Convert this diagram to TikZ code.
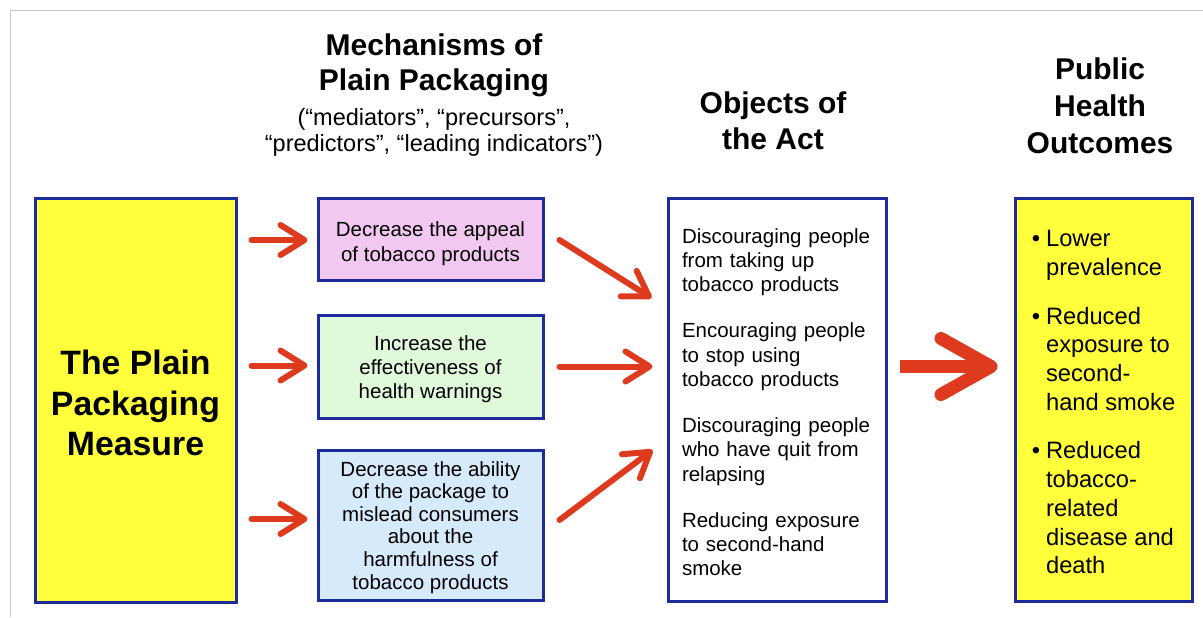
\documentclass[tikz,border=0pt]{standalone}
\usepackage{fontspec}
\setmainfont{Liberation Sans}
\usepackage{xcolor}
\usetikzlibrary{arrows.meta, calc}

\definecolor{boxblue}{HTML}{1E2B9C}
\definecolor{measureyellow}{HTML}{FFFF3C}
\definecolor{appealpink}{HTML}{F2C8F0}
\definecolor{warngreen}{HTML}{E0F9DA}
\definecolor{misleadblue}{HTML}{D6EAFA}
\definecolor{arrowred}{HTML}{DE3A1E}
\definecolor{framegray}{HTML}{C8C8C8}

% lower the lines of a box a little, keeping the box size
\newcommand{\lowered}[2]{\raisebox{-#1}[\height][\depth]{#2}}

\begin{document}
\begin{tikzpicture}[
    x=0.5pt, y=-0.5pt,
    box/.style={draw=boxblue, line width=1.5pt, fill=#1, align=center, inner sep=0pt, font=\fontsize{10.25}{12.15}\selectfont},
    box/.default=white,
    heading/.style={align=center, inner sep=0pt, font=\fontsize{15}{18}\selectfont\bfseries},
    arrow/.style={-{Straight Barb[length=12pt, width=15pt, round]}, line width=3pt, line cap=round, color=arrowred},
    bigarrow/.style={-{Straight Barb[length=25pt, width=28pt, round]}, line width=6.5pt, color=arrowred}
]
\useasboundingbox (0,0) rectangle (1203,617);

% === FRAME ===
\draw[framegray, line width=0.5pt] (10,617) |- (1203,10);

% === HEADINGS ===
\node[heading, font=\fontsize{15}{17.5}\selectfont\bfseries] (mechtitle) at (434,65) {Mechanisms of\\Plain Packaging};
\node[align=center, inner sep=0pt, font=\fontsize{11.75}{13}\selectfont] (mechsub) at (434,132) {(“mediators”, “precursors”,\\“predictors”, “leading indicators”)};
\node[heading] (objtitle) at (773,121) {Objects of\\the Act};
\node[heading, font=\fontsize{15}{18.5}\selectfont\bfseries] (phtitle) at (1100,106) {Public\\Health\\Outcomes};

% === COLUMN 1: Measure ===
\node[box=measureyellow, minimum width=100.5pt, minimum height=202pt, font=\fontsize{16.9}{20.25}\selectfont\bfseries] (plain) at (135.5,400) {%
  \lowered{3.5pt}{\begin{tabular}{@{}c@{}}The Plain\\Packaging\\Measure\end{tabular}}};

% === COLUMN 2: Mechanisms ===
\node[box=appealpink, minimum width=112.5pt, minimum height=41pt] (appeal) at (430.5,239) {%
  \lowered{2.5pt}{\begin{tabular}{@{}c@{}}Decrease the appeal\\of tobacco products\end{tabular}}};
\node[box=warngreen, minimum width=112.5pt, minimum height=51.5pt] (warnings) at (430.5,366.5) {%
  \lowered{1.5pt}{\begin{tabular}{@{}c@{}}Increase the\\effectiveness of\\health warnings\end{tabular}}};
\node[box=misleadblue, minimum width=112.5pt, minimum height=75pt, font=\fontsize{10.25}{11.3}\selectfont] (mislead) at (430.5,525) {%
  \lowered{1.5pt}{\begin{tabular}{@{}c@{}}Decrease the ability\\of the package to\\mislead consumers\\about the\\harmfulness of\\tobacco products\end{tabular}}};

% === COLUMN 3: Objects of the Act ===
\node[box, minimum width=109pt, minimum height=201.5pt, text width=95pt, align=left] (objects) at (777,399.5) {\lowered{2.5pt}{%
  \begin{tabular}{@{}l@{}}
  Discouraging people\\from taking up\\tobacco products\\[10.9pt]
  Encouraging people\\to stop using\\tobacco products\\[10.9pt]
  Discouraging people\\who have quit from\\relapsing\\[10.9pt]
  Reducing exposure\\to second-hand\\smoke
  \end{tabular}}};

% === COLUMN 4: Outcomes ===
\node[box=measureyellow, minimum width=88.5pt, minimum height=201.5pt, font=\fontsize{11.85}{14.35}\selectfont] (outcomes) at (1103.5,399.5) {\lowered{2.5pt}{%
  \begin{tabular}{@{}l@{\hspace{3pt}}l@{}}
  \textbullet & Lower\\
              & prevalence\\[10pt]
  \textbullet & Reduced\\
              & exposure to\\
              & second-\\
              & hand smoke\\[10pt]
  \textbullet & Reduced\\
              & tobacco-\\
              & related\\
              & disease and\\
              & death
  \end{tabular}}};

% === ARROWS ===
% Measure to mechanisms
\draw[arrow] ($(plain.east |- appeal.west)+(14,1)$) -- ($(appeal.west)+(-9,1)$);
\draw[arrow] ($(plain.east |- warnings.west)+(14,-1)$) -- ($(warnings.west)+(-9,-1)$);
\draw[arrow] ($(plain.east |- mislead.west)+(14,-6)$) -- ($(mislead.west)+(-9,-6)$);

% Mechanisms to objects
\draw[arrow] ($(appeal.east)+(15,1)$) -- ($(objects.west |- appeal.east)+(-15,59)$);
\draw[arrow] ($(warnings.east)+(15,0)$) -- ($(objects.west |- warnings.east)+(-14,0)$);
\draw[arrow] ($(mislead.east)+(15,-5)$) -- ($(objects.west |- mislead.east)+(-14,-75)$);

% Objects to outcomes
\draw[bigarrow] ($(objects.east)+(12,-33)$) -- ($(outcomes.west)+(-16,-33)$);

\end{tikzpicture}
\end{document}
